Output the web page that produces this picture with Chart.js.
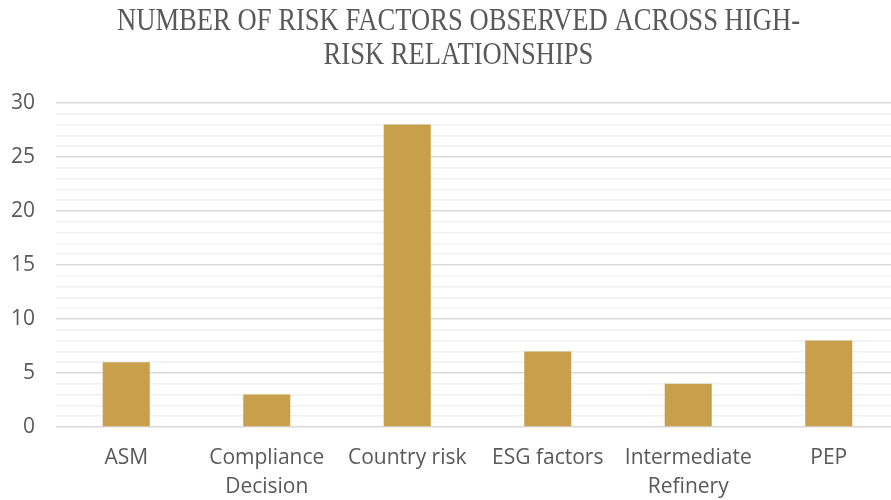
<!DOCTYPE html>
<html>
<head>
<meta charset="utf-8">
<script src="https://cdn.jsdelivr.net/npm/chart.js@4/dist/chart.umd.min.js"></script>
<style>
html,body{margin:0;padding:0;background:#fff;overflow:hidden;}
#wrap{width:900px;height:502px;position:relative;}
</style>
</head>
<body>
<div id="wrap"><canvas id="c"></canvas></div>
<script>
const titleLines = ["NUMBER OF RISK FACTORS OBSERVED ACROSS HIGH-", "RISK RELATIONSHIPS"];
const categories = ["ASM", ["Compliance", "Decision"], "Country risk", "ESG factors", ["Intermediate", "Refinery"], "PEP"];
const riskCounts = [6, 3, 28, 7, 4, 8];
const yMin = 0, yMax = 30, yMajorStep = 5;

const titlePlugin = {
  id: 'serifTitle',
  afterDraw(chart) {
    const ctx = chart.ctx;
    ctx.save();
    ctx.fillStyle = '#595959';
    ctx.font = '31px "Liberation Serif", serif';
    ctx.textAlign = 'center';
    ctx.textBaseline = 'alphabetic';
    const w = ctx.measureText(titleLines[0]).width;
    const sx = 683 / w;
    const cx = 458.5;
    const baselines = [30, 64];
    titleLines.forEach((t, i) => {
      ctx.save();
      ctx.translate(cx, baselines[i]);
      ctx.scale(sx, 1);
      ctx.fillText(t, 0, 0);
      ctx.restore();
    });
    ctx.restore();
  }
};

new Chart(document.getElementById('c'), {
  type: 'bar',
  data: {
    labels: categories,
    datasets: [{
      data: riskCounts,
      backgroundColor: '#C8A04B',
      borderWidth: 0,
      categoryPercentage: 1,
      barPercentage: 0.335
    }]
  },
  plugins: [titlePlugin],
  options: {
    responsive: true,
    maintainAspectRatio: false,
    animation: false,
    layout: { padding: { top: 103, right: 1, left: 12, bottom: 0 } },
    plugins: { legend: { display: false }, tooltip: { enabled: false } },
    scales: {
      x: {
        grid: { display: false, drawTicks: false },
        border: { display: false },
        afterFit: s => { s.height = 75; },
        ticks: { color: '#595959', font: { family: '"Open Sans", sans-serif', size: 21, lineHeight: 1.4 }, padding: 16, maxRotation: 0, autoSkip: false }
      },
      y: {
        min: yMin, max: yMax,
        afterFit: s => { s.width = 44; },
        grid: {
          drawTicks: false,
          color: ctx => (ctx.tick && ctx.tick.value % yMajorStep === 0) ? '#D9D9D9' : '#F0F0F0',
          lineWidth: 1.5
        },
        border: { display: false },
        ticks: {
          stepSize: 1,
          autoSkip: false,
          color: '#595959',
          padding: 21,
          font: { family: '"Open Sans", sans-serif', size: 21 },
          callback: v => (v % yMajorStep === 0 ? v : '')
        }
      }
    }
  }
});
</script>
</body>
</html>
